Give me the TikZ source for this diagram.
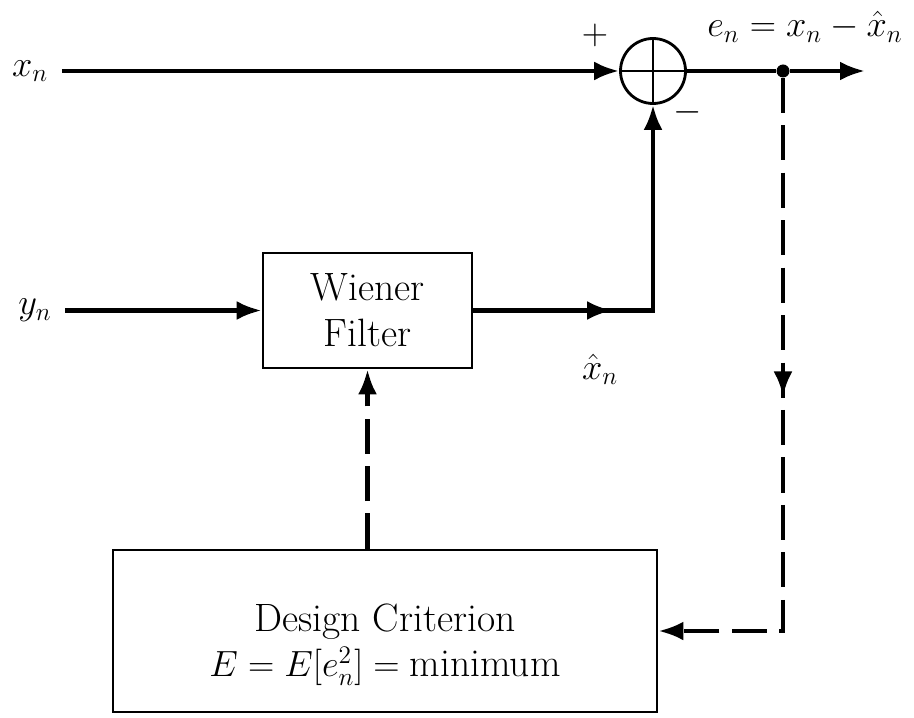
\documentclass[tikz,border=0pt]{standalone}
\usepackage{amsmath}
\usetikzlibrary{arrows.meta,positioning,decorations.markings}

\begin{document}
\begin{tikzpicture}[
  blk/.style={draw, line width=1.6pt, align=center, font=\fontsize{22.5}{26}\selectfont},
  lbl/.style={font=\fontsize{21.5}{25}\selectfont, inner sep=2pt},
  wire/.style={line width=2.5pt},
  sig/.style={wire, -{Latex[length=5mm,width=3.8mm]}},
  fb/.style={sig, dash pattern=on 20pt off 7pt},
  midarr/.style={postaction={decorate}, decoration={markings,
    mark=at position #1 with {\arrow{Latex[length=5mm,width=3.8mm]}}}},
]
  \useasboundingbox (0,0) rectangle (18.28,14.34);

  % --- summing junction and the error output -------------------------
  \node[draw, circle, line width=1.6pt, minimum size=1.3cm, inner sep=0] (sum) at (13.06,12.92) {};
  \draw[line width=1.6pt] (sum.north) -- (sum.south) (sum.west) -- (sum.east);
  \node[lbl] at (11.9,13.64) {$+$};
  \node[lbl] at (13.76,12.1) {$-$};
  \node[circle, fill, inner sep=0, minimum size=0.26cm] (tap) at (15.66,12.92) {};
  \coordinate (out) at (17.3,12.92);
  \node[lbl] (en) at (16.1,13.8) {$e_n = x_n - \hat{x}_n$};
  \draw[wire] (sum.east) -- (tap);
  \draw[sig] (tap) -- (out);

  % --- inputs ----------------------------------------------------------
  \node[lbl] (xn) at (0.6,12.92) {$x_n$};
  \draw[sig] (xn.east) ++(0.2,0) coordinate (xs) (xs) -- (sum.west);

  \node[blk, minimum width=4.18cm, minimum height=2.3cm] (wf) at (7.35,8.13) {Wiener\\ Filter};
  \node[lbl] (yn) at (0.7,8.13) {$y_n$};
  \draw[sig] (yn.east) ++(0.2,0) coordinate (ys) (ys) -- (wf.west);

  % filter output back up into the junction
  \draw[sig, midarr=0.36] (wf.east) -| (sum.south);
  \node[lbl] (xh) at (12.0,6.95) {$\hat{x}_n$};

  % --- design criterion and the dashed adaptation loop -----------------
  \node[blk, minimum width=10.88cm, minimum height=3.24cm] (dc) at (7.7,1.72)
    {\rule{0pt}{1.1cm}Design Criterion\\ $E = E[e_n^2] = \text{minimum}$};
  \draw[fb] (wf.south |- dc.north) -- (wf.south);
  \draw[fb, midarr=0.47] (tap) |- (dc.east);
\end{tikzpicture}
\end{document}
